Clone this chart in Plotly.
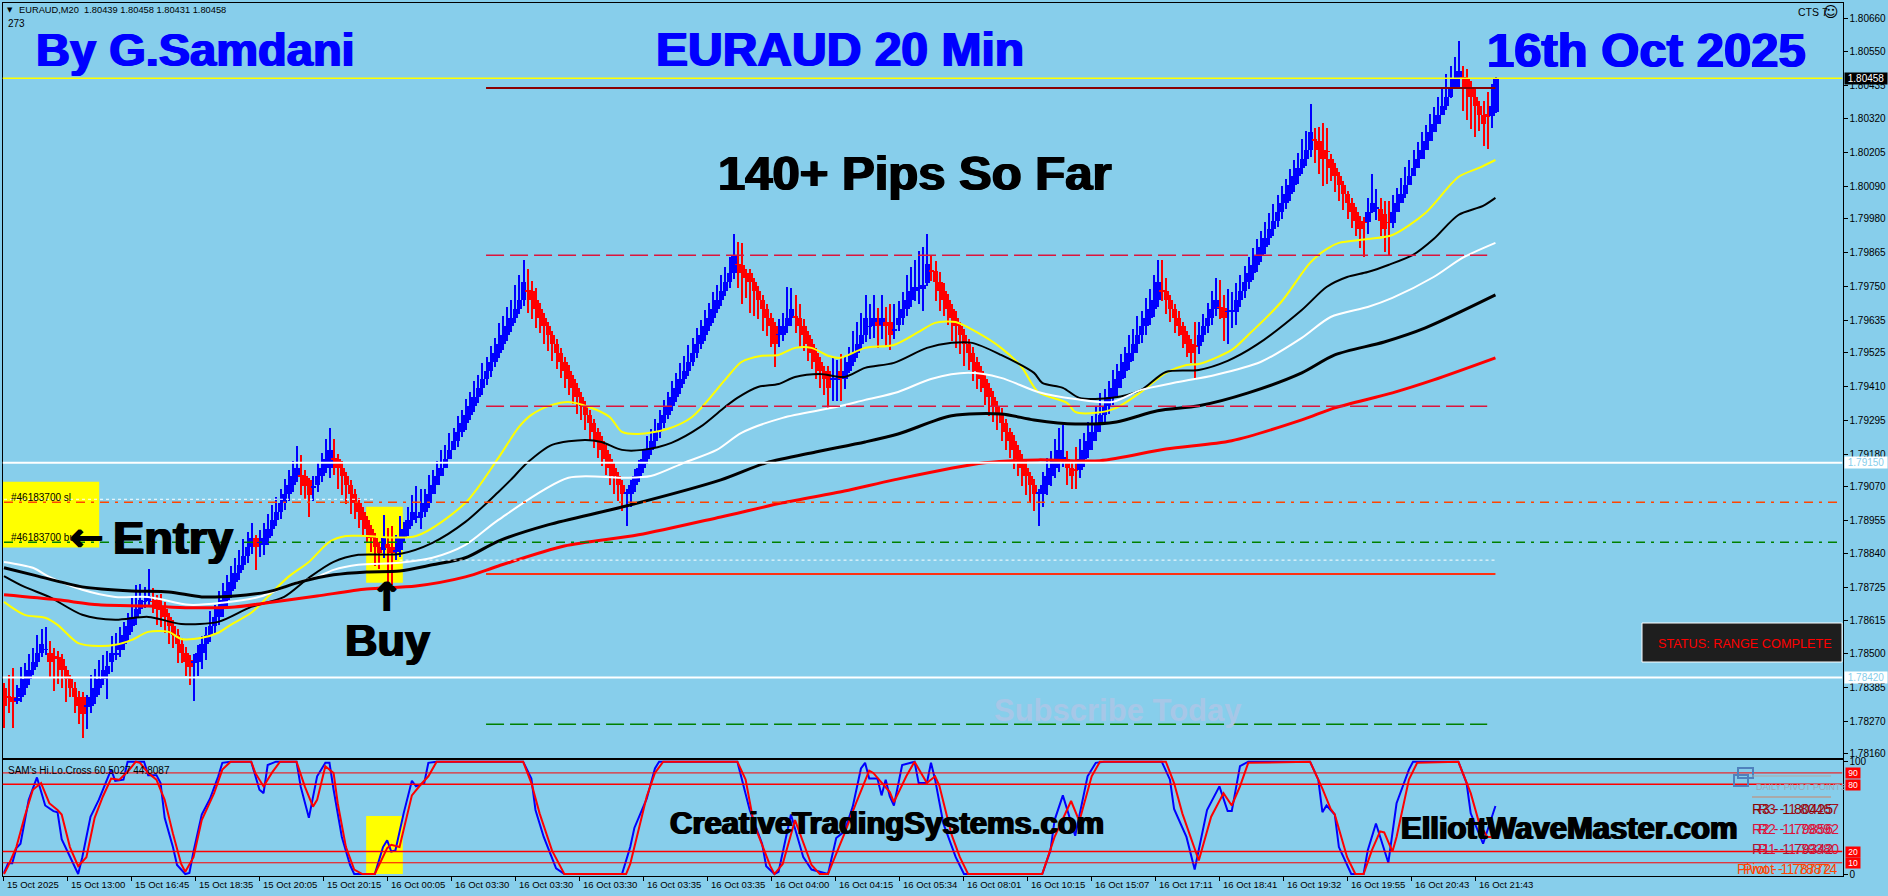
# EURAUD 20 min chart (MT4 style screenshot rebuilt with Plotly)
import numpy as np
import plotly.graph_objects as go

W, H = 1888, 896
SKY = "#87CEEB"
FONT = "Liberation Sans"
BASE_PRICE = 1.78  # bar and MA values below are points above this price

# candle data
OPEN_PTS = [
    384,354,354,340,354,384,414,444,474,504,
    514,504,490,488,484,444,414,384,354,354,
    322,324,354,384,414,432,474,498,514,534,
    564,594,624,654,678,680,680,684,664,654,
    624,594,564,534,504,480,472,474,504,534,
    564,594,624,654,684,714,744,774,804,834,
    864,894,878,870,894,924,954,984,1014,1044,
    1074,1104,1106,1104,1092,1064,1074,1104,1134,1134,
    1164,1164,1134,1104,1074,1044,1014,984,954,924,
    894,864,854,874,864,850,854,894,924,954,
    964,964,984,1014,1044,1074,1104,1134,1164,1194,
    1224,1254,1284,1314,1344,1374,1404,1434,1464,1494,
    1524,1554,1584,1614,1644,1674,1704,1736,1734,1704,
    1674,1644,1614,1584,1554,1524,1494,1464,1434,1404,
    1374,1344,1314,1284,1254,1224,1194,1164,1134,1104,
    1074,1044,1044,1074,1104,1134,1164,1194,1224,1254,
    1284,1314,1344,1374,1404,1434,1464,1494,1524,1554,
    1584,1614,1644,1674,1704,1734,1764,1794,1826,1824,
    1794,1794,1764,1734,1704,1674,1644,1614,1585,1584,
    1614,1644,1648,1644,1614,1584,1554,1524,1494,1464,
    1464,1434,1434,1464,1436,1464,1494,1524,1554,1584,
    1612,1614,1630,1618,1630,1630,1600,1618,1644,1674,
    1704,1735,1740,1740,1763,1804,1804,1764,1734,1704,
    1674,1644,1614,1584,1554,1524,1494,1464,1434,1404,
    1374,1344,1314,1284,1254,1224,1194,1164,1134,1104,
    1074,1044,1044,1074,1104,1134,1164,1166,1164,1134,
    1126,1126,1164,1194,1224,1254,1284,1314,1344,1374,
    1404,1434,1464,1494,1524,1554,1584,1614,1644,1674,
    1704,1736,1734,1704,1674,1644,1614,1584,1554,1548,
    1548,1584,1614,1644,1674,1680,1678,1664,1666,1662,1704,
    1734,1764,1794,1824,1854,1884,1914,1944,1974,2004,
    2034,2064,2094,2124,2154,2184,2214,2250,2244,2214,
    2210,2184,2154,2124,2094,2064,2034,2004,1974,
    1968,1968,2004,2016,2012,1998,1968,1966,2004,2034,
    2064,2094,2124,2154,2184,2214,2244,2274,2304,2334,
    2364,2394,2424,2454,2461,2454,2424,2394,2364,2334,
    2336,2328,2344,
]
CLOSE_PTS = [
    324,352,338,350,384,414,444,474,504,534,
    516,474,488,486,444,414,384,354,324,294,
    324,354,384,414,444,460,504,500,534,564,
    594,624,654,684,680,696,678,654,650,624,
    594,564,534,504,474,454,474,504,534,564,
    594,624,654,684,714,744,774,804,834,864,
    894,864,880,894,924,954,984,1014,1044,1074,
    1104,1134,1102,1072,1042,1072,1104,1134,1164,1194,
    1160,1134,1104,1074,1044,1014,984,954,924,894,
    864,844,894,860,844,854,894,924,954,984,
    968,984,1014,1044,1074,1104,1134,1164,1194,1224,
    1254,1284,1314,1344,1374,1404,1434,1464,1494,1524,
    1554,1584,1614,1644,1674,1704,1764,1732,1704,1674,
    1644,1614,1584,1554,1524,1494,1464,1434,1404,1374,
    1344,1314,1284,1254,1224,1194,1164,1134,1104,1074,
    1044,1048,1074,1104,1134,1164,1194,1224,1254,1284,
    1314,1344,1374,1404,1434,1464,1494,1524,1554,1584,
    1614,1644,1674,1704,1734,1764,1794,1854,1824,1794,
    1777,1764,1734,1704,1674,1644,1614,1554,1587,1614,
    1644,1674,1645,1614,1584,1554,1524,1494,1464,1434,
    1404,1436,1436,1434,1464,1494,1524,1554,1584,1644,
    1614,1644,1614,1644,1614,1584,1602,1644,1674,1704,
    1734,1747,1747,1755,1826,1802,1764,1734,1704,1674,
    1644,1614,1584,1554,1524,1494,1464,1434,1404,1374,
    1344,1314,1284,1254,1224,1194,1164,1134,1104,1074,
    1044,1048,1074,1104,1134,1164,1194,1168,1134,1104,
    1124,1164,1194,1224,1254,1284,1314,1344,1374,1404,
    1434,1464,1494,1524,1554,1584,1614,1644,1674,1704,
    1764,1734,1704,1674,1644,1614,1584,1554,1524,1546,
    1584,1614,1644,1674,1704,1678,1644,1666,1668,1704,1734,
    1764,1794,1824,1854,1884,1914,1944,1974,2004,2034,
    2064,2094,2124,2154,2184,2214,2274,2248,2214,2184,
    2208,2154,2124,2094,2064,2034,2004,1974,1944,
    1966,2004,2034,2018,1974,1944,1966,2004,2034,2064,
    2094,2124,2154,2184,2214,2244,2274,2304,2334,2364,
    2394,2424,2454,2484,2459,2424,2394,2364,2334,2304,
    2325,2364,2458,
]
HIGH_PTS = [
    400,430,452,395,455,470,500,520,565,585,
    590,545,520,510,500,460,430,405,375,370,
    360,428,450,480,495,510,560,570,590,610,
    640,690,735,738,728,790,725,700,705,675,
    640,615,585,555,525,498,500,530,560,590,
    645,665,715,740,770,800,825,855,890,915,
    945,905,920,945,975,1005,1035,1060,1095,1125,
    1155,1207,1175,1125,1100,1105,1150,1185,1230,1268,
    1230,1180,1155,1120,1090,1060,1030,1000,970,940,
    910,880,973,930,935,905,970,950,1000,1040,
    1070,1060,1060,1110,1125,1155,1195,1212,1250,1270,
    1310,1330,1368,1390,1430,1450,1490,1510,1548,1575,
    1625,1650,1680,1705,1755,1790,1840,1810,1770,1745,
    1695,1660,1630,1600,1570,1540,1510,1482,1450,1420,
    1390,1360,1330,1300,1270,1240,1210,1180,1150,1120,
    1090,1060,1090,1130,1160,1195,1240,1265,1300,1330,
    1365,1390,1430,1455,1490,1515,1550,1575,1610,1635,
    1670,1695,1730,1755,1790,1815,1850,1928,1902,1897,
    1810,1810,1780,1750,1720,1690,1660,1630,1640,1660,
    1747,1745,1720,1690,1640,1600,1570,1540,1510,1480,
    1480,1510,1500,1520,1510,1545,1600,1630,1660,1720,
    1690,1720,1675,1720,1680,1690,1690,1700,1730,1790,
    1815,1840,1870,1885,1928,1855,1835,1800,1760,1725,
    1690,1665,1630,1605,1570,1545,1510,1480,1450,1420,
    1395,1360,1335,1300,1270,1245,1210,1180,1155,1120,
    1095,1060,1120,1165,1190,1232,1267,1279,1190,1155,
    1205,1230,1250,1290,1310,1340,1386,1400,1430,1465,
    1485,1520,1545,1585,1605,1650,1665,1710,1740,1790,
    1840,1840,1778,1720,1690,1665,1630,1600,1570,1630,
    1630,1655,1695,1735,1780,1772,1720,1740,1730,1760,1790,
    1820,1850,1880,1910,1940,1970,2000,2030,2060,2090,
    2115,2150,2180,2205,2250,2280,2372,2290,2293,2305,
    2290,2200,2170,2140,2110,2075,2050,2020,1990,
    1985,2050,2132,2080,2050,2040,2040,2060,2085,2120,
    2155,2180,2215,2240,2275,2300,2335,2360,2395,2420,
    2472,2500,2531,2585,2500,2490,2450,2425,2380,2380,
    2412,2440,2462,
]
LOW_PTS = [
    247,300,247,330,336,360,395,430,455,490,
    495,420,375,398,385,335,355,300,262,214,
    245,300,330,360,395,345,440,480,490,515,
    545,575,600,635,655,660,640,600,590,570,
    535,520,470,470,425,395,340,425,450,480,
    540,570,600,625,660,690,720,750,785,810,
    840,786,830,835,870,900,935,960,990,1020,
    1050,1085,1040,1025,967,1020,1050,1085,1115,1100,
    1110,1060,1040,1010,975,960,930,905,880,845,
    800,790,825,745,735,820,830,880,900,935,
    945,925,965,995,1055,1085,1112,1148,1170,1205,
    1205,1238,1262,1295,1322,1355,1382,1415,1442,1475,
    1505,1535,1565,1595,1625,1655,1685,1660,1640,1610,
    1590,1555,1530,1495,1470,1440,1405,1380,1350,1315,
    1295,1260,1225,1200,1165,1140,1110,1075,1045,1020,
    985,935,1000,1050,1085,1115,1145,1175,1205,1235,
    1268,1298,1325,1358,1385,1418,1445,1478,1505,1538,
    1565,1598,1625,1658,1685,1718,1745,1775,1745,1690,
    1710,1660,1650,1640,1600,1580,1545,1477,1545,1565,
    1590,1615,1590,1540,1530,1495,1470,1435,1405,1380,
    1335,1360,1360,1360,1400,1455,1480,1505,1535,1560,
    1570,1575,1540,1570,1545,1535,1570,1600,1620,1650,
    1680,1700,1690,1665,1750,1770,1700,1665,1650,1620,
    1565,1540,1520,1480,1465,1430,1400,1390,1345,1310,
    1290,1260,1225,1195,1165,1130,1105,1070,1040,1015,
    985,935,1000,1040,1070,1100,1120,1135,1075,1060,
    1060,1100,1135,1165,1195,1225,1255,1290,1315,1345,
    1378,1405,1438,1465,1498,1525,1558,1585,1618,1645,
    1680,1700,1655,1630,1590,1580,1540,1510,1490,1432,
    1520,1560,1590,1620,1650,1640,1565,1555,1610,1620,1680,
    1710,1740,1772,1800,1832,1860,1892,1920,1952,1980,
    2012,2040,2072,2100,2132,2160,2190,2170,2134,2092,
    2100,2110,2070,2040,2010,1980,1950,1920,1880,
    1851,1930,2000,1975,1920,1868,1857,1950,2010,2040,
    2050,2100,2130,2160,2190,2220,2250,2280,2310,2340,
    2350,2390,2420,2430,2348,2316,2287,2259,2278,2227,
    2219,2290,2340,
]

# moving averages, (bar number, points above base)
YELLOW_BAR = [0,5,10,13,18,23,27,31,35,40,43,48,52,55,60,64,69,74,79,83,88,100,112,120,125,128,133,137,142,147,150,154,161,167,175,179,184,188,192,196,200,203,209,216,222,226,231,236,242,247,251,258,260,265,270,276,282,287,290,298,302,310,317,321,324,331,337,345,353,358,362]
YELLOW_PTS = [677,633,623,599,537,527,531,548,575,575,551,555,572,599,640,694,762,813,881,901,901,901,1014,1167,1272,1313,1347,1357,1340,1306,1255,1248,1265,1306,1432,1493,1514,1517,1541,1541,1514,1507,1541,1551,1595,1626,1629,1595,1541,1476,1391,1354,1323,1320,1337,1391,1456,1483,1486,1534,1585,1697,1830,1877,1898,1911,1925,2000,2122,2153,2180]
BLACK_THIN_BAR = [0,5,11,19,27,35,43,52,60,68,74,80,86,96,104,112,120,123,127,133,141,145,150,155,162,169,175,178,183,188,192,198,204,209,216,224,230,235,242,250,252,257,261,269,276,282,290,297,304,315,321,326,331,336,342,347,353,359,362]
BLACK_THIN_PTS = [765,728,694,633,616,626,602,609,660,694,759,813,837,840,878,949,1051,1092,1150,1211,1228,1221,1194,1194,1218,1272,1340,1371,1408,1418,1442,1452,1442,1473,1490,1541,1558,1558,1517,1456,1422,1405,1371,1371,1398,1459,1466,1497,1551,1670,1748,1782,1799,1823,1857,1911,1993,2024,2051]
WHITE_BAR = [0,7,11,19,27,35,45,53,62,70,76,80,86,96,104,112,120,137,150,157,165,173,179,189,201,209,217,225,234,242,251,260,269,276,284,294,305,315,322,331,337,347,354,362]
WHITE_PTS = [813,793,762,718,694,694,667,674,694,738,762,786,803,810,827,871,956,1099,1099,1105,1150,1194,1252,1303,1337,1364,1391,1435,1456,1439,1391,1367,1357,1398,1422,1449,1493,1575,1646,1680,1711,1782,1847,1898]
BLACK_THICK_BAR = [0,7,19,31,40,48,56,64,72,80,88,96,104,112,120,132,151,174,185,197,209,217,230,242,250,260,270,280,290,302,315,323,335,345,362]
BLACK_THICK_PTS = [793,769,728,714,711,694,697,711,745,769,779,782,803,827,884,939,1003,1092,1150,1187,1221,1248,1310,1316,1296,1282,1289,1327,1344,1388,1456,1517,1561,1609,1721]
RED_MA_BAR = [0,13,23,35,45,56,64,76,88,100,112,120,136,154,174,189,204,216,238,251,266,282,298,315,323,337,347,362]
RED_MA_PTS = [701,684,667,663,657,660,674,697,721,731,762,799,867,905,966,1014,1054,1092,1150,1160,1157,1197,1225,1296,1337,1388,1432,1507]

# SAM's Hi.Lo.Cross oscillator
OSC_BLUE_BAR = [
    0,1,2,3,4,5,6,8,10,12, 13,14,15,17,18,19,21,23,25,26,
    27,29,30,34,35,37,38,39,41,42, 44,45,46,48,50,52,53,55,60,62,
    63,64,66,71,72,74,76,78,79,80, 82,84,85,90,92,93,94,95,97,99,
    100,102,103,105,126,128,129,131,134,136, 150,152,153,154,156,158,159,178,179,181,
    184,185,187,188,191,194,196,200,202,204, 206,208,209,210,212,213,214,215,216,218,
    221,222,224,225,226,228,231,233,252,254, 255,257,260,263,265,267,281,283,284,287,
    289,292,295,297,298,300,302,317,319,320, 321,323,324,326,327,330,331,333,336,338,
    341,342,353,355,356,359,362,
]
OSC_BLUE = [
    1,9.5,9.5,23,27,46,66,86,61,56, 55,31,23,8,0,15,51,66,85,93,
    83,84,100,100,88,88,81,50,24,8, 0,1,20,53,67,87,99,100,100,75,
    72,97,100,100,78,50,87,99,99,75, 33,8,0,0,24,30,20,21,54,83,
    78,81,99,100,100,85,57,33,5,0, 0,24,41,50,67,94,100,100,85,57,
    27,7,0,2,53,15,4,0,32,38, 60,94,99,85,85,70,84,69,61,97,
    100,81,81,99,84,45,15,0,0,21, 48,70,34,87,99,100,100,84,58,33,
    4,57,78,56,56,96,100,100,84,55, 61,53,24,7,0,0,21,45,10,63,
    93,100,100,81,54,27,60.5,
]
OSC_RED_BAR = [
    0,1,3,5,7,9,11,13,14,16, 18,20,22,24,26,28,30,32,33,35,
    37,39,41,43,44,46,48,51,53,55, 60,61,63,65,67,71,73,75,76,78,
    80,81,83,85,87,90,93,94,96,99, 101,103,105,126,128,130,133,136,151,152,
    154,156,158,160,178,180,182,186,187,189, 192,194,196,198,200,203,204,207,210,211,
    213,215,216,219,221,224,226,227,230,232, 234,252,255,259,261,264,266,282,284,286,
    290,293,296,298,300,302,317,320,322,323, 326,328,330,332,334,335,337,338,341,343,
    353,356,358,360,361,
]
OSC_RED = [
    0,7,24,51,75,81,63,57,53,24, 7,15,50,69,85,84,91,100,99,90,
    84,66,36,9,2,15,48,72,93,100, 100,90,78,90,100,100,78,60,66,96,
    90,63,24,4,0,0,23,26,24,70, 79,87,100,100,81,54,21,0,0,9,
    39,69,90,100,100,84,45,7,0,9, 48,27,8,0,0,27,36,65,92,90,
    81,73,64,87,100,81,87,79,35,15, 0,0,33,65,47,87,100,100,81,54,
    12,51,72,61,78,99,100,76,58,53, 15,0,0,21,38,37,20,33,84,99,
    100,72,46,33,33,
]
OSC_LEVELS = [90, 80, 20, 10]

PRICE_TICKS = [1.80660,1.80550,1.80435,1.80320,1.80205,1.80090,1.79980,1.79865,1.79750,1.79635,1.79525,
               1.79410,1.79295,1.79180,1.79070,1.78955,1.78840,1.78725,1.78615,1.78500,1.78385,1.78270,1.78160]
TIME_LABELS = ["15 Oct 2025","15 Oct 13:00","15 Oct 16:45","15 Oct 18:35","15 Oct 20:05","15 Oct 20:15",
               "16 Oct 00:05","16 Oct 03:30","16 Oct 03:30","16 Oct 03:30","16 Oct 03:35","16 Oct 03:35",
               "16 Oct 04:00","16 Oct 04:15","16 Oct 05:34","16 Oct 08:01","16 Oct 10:15","16 Oct 15:07",
               "16 Oct 17:11","16 Oct 18:41","16 Oct 19:32","16 Oct 19:55","16 Oct 20:43","16 Oct 21:43"]

CURRENT_PRICE = 1.80458
R3_PRICE = 1.80425
R2_PRICE = 1.79856
R1_PRICE = 1.79342
UPPER_WHITE = 1.79150
SL_PRICE = 1.79016
ENTRY_PRICE = 1.78880
WHITE_DOT_1 = 1.79026
WHITE_DOT_2 = 1.78819
PIVOT_PRICE = 1.78772
LOWER_WHITE = 1.78420
S1_PRICE = 1.78261

# chart frame in screen pixels
PLOT_LEFT, PLOT_RIGHT = 2.5, 1842.5
MAIN_TOP, MAIN_BOTTOM = 3, 758
OSC_TOP, OSC_BOTTOM = 760, 875.7
BAR_PX = 4.12
BAR0_PX = 4.0
X_RANGE = [(PLOT_LEFT - BAR0_PX) / BAR_PX, (PLOT_RIGHT - BAR0_PX) / BAR_PX]


def to_price(pts):
    return BASE_PRICE + np.array(pts) / 1e5


o, c, hi, lo = map(to_price, (OPEN_PTS, CLOSE_PTS, HIGH_PTS, LOW_PTS))
bars = np.arange(len(o))
bar_color = ["#0000FF" if c1 >= o1 else "#FF0000" for o1, c1 in zip(o, c)]

fig = go.Figure()

# wicks then bodies
fig.add_trace(go.Bar(x=bars, y=hi - lo, base=lo, width=0.26, marker=dict(color=bar_color, line_width=0)))
fig.add_trace(go.Bar(x=bars, y=np.abs(c - o), base=np.minimum(o, c), width=1.35,
                     marker=dict(color=bar_color, line_width=0)))

for xs, ys, color, width in [
    (YELLOW_BAR, YELLOW_PTS, "#FFFF00", 2),
    (BLACK_THIN_BAR, BLACK_THIN_PTS, "#000000", 2),
    (WHITE_BAR, WHITE_PTS, "#FFFFFF", 2),
    (BLACK_THICK_BAR, BLACK_THICK_PTS, "#000000", 3),
    (RED_MA_BAR, RED_MA_PTS, "#FF0000", 3),
]:
    fig.add_trace(go.Scatter(x=xs, y=to_price(ys), mode="lines",
                             line=dict(color=color, width=width, shape="spline", smoothing=0.8)))

fig.add_trace(go.Scatter(x=OSC_BLUE_BAR, y=OSC_BLUE, mode="lines", xaxis="x2", yaxis="y2",
                         line=dict(color="#0000FF", width=2)))
fig.add_trace(go.Scatter(x=OSC_RED_BAR, y=OSC_RED, mode="lines", xaxis="x2", yaxis="y2",
                         line=dict(color="#FF0000", width=2)))


def hline(price, x0, x1, color, width, dash="solid"):
    fig.add_shape(type="line", xref="x", yref="y", x0=x0, x1=x1, y0=price, y1=price,
                  line=dict(color=color, width=width, dash=dash), layer="above")


DASH = "18px,6px"
DASHDOT = "9px,6px,3px,6px"
hline(CURRENT_PRICE, X_RANGE[0], X_RANGE[1], "#FFFF00", 1.5)
hline(R3_PRICE, 117, 362, "#8B0000", 2)
hline(R2_PRICE, 117, 360, "#DC143C", 1.5, DASH)
hline(R1_PRICE, 117, 360, "#DC143C", 1.5, DASH)
hline(UPPER_WHITE, X_RANGE[0], X_RANGE[1], "#FFFFFF", 2)
hline(WHITE_DOT_1, 0, 90, "#FFFFFF", 1, "3px,3px")
hline(SL_PRICE, 0, 445, "#FF4500", 1.5, DASHDOT)
hline(ENTRY_PRICE, 0, 445, "#008000", 1.5, DASHDOT)
hline(WHITE_DOT_2, 96, 362, "#FFFFFF", 1, "3px,3px")
hline(PIVOT_PRICE, 117, 362, "#FF3010", 2)
hline(LOWER_WHITE, X_RANGE[0], X_RANGE[1], "#FFFFFF", 2)
hline(S1_PRICE, 117, 360, "#008000", 1.5, DASH)

# yellow highlight boxes
fig.add_shape(type="rect", xref="x", yref="y", x0=X_RANGE[0], x1=23.1, y0=1.78862, y1=1.79086,
              fillcolor="#FFFF00", line_width=0, layer="below")
fig.add_shape(type="rect", xref="x", yref="y", x0=87.9, x1=96.8, y0=1.78742, y1=1.79001,
              fillcolor="#FFFF00", line_width=0, layer="below")
fig.add_shape(type="rect", xref="x2", yref="y2", x0=87.9, x1=96.8, y0=0, y1=51.6,
              fillcolor="#FFFF00", line_width=0, layer="below")

for level, width in zip(OSC_LEVELS, [1, 1.5, 1.5, 1]):
    fig.add_shape(type="line", xref="x2", yref="y2", x0=X_RANGE[0], x1=X_RANGE[1], y0=level, y1=level,
                  line=dict(color="#FF0000", width=width), layer="above")


def px_rect(x0, x1, y0, y1, fill=None, line_color=None, line_width=1):
    fig.add_shape(type="rect", xref="paper", yref="paper", x0=x0 / W, x1=x1 / W, y0=1 - y0 / H, y1=1 - y1 / H,
                  fillcolor=fill, line=dict(color=line_color, width=line_width if line_color else 0), layer="above")


def px_line(x0, x1, y, color, width):
    fig.add_shape(type="line", xref="paper", yref="paper", x0=x0 / W, x1=x1 / W, y0=1 - y / H, y1=1 - y / H,
                  line=dict(color=color, width=width), layer="above")


def label(x, y, text, size, color="#000000", bold=False, anchor="left", family=FONT, bg=None):
    font = dict(family=family, size=size, color=color)
    if bold:
        # MT4 headline font is heavier than plain bold
        text = "<b>" + text + "</b>"
        font["shadow"] = "1px 0 0 %s, -1px 0 0 %s" % (color, color)
    fig.add_annotation(xref="paper", yref="paper", x=x / W, y=1 - y / H, text=text, showarrow=False,
                       xanchor=anchor, yanchor="middle", bgcolor=bg, borderpad=0, font=font)


# big headlines
label(35, 50, "By G.Samdani", 47, "#0000FF", True)
label(840, 50, "EURAUD 20 Min", 48, "#0000FF", True, "center")
label(1646, 50, "16th Oct 2025", 49, "#0000FF", True, "center")
label(915, 173, "140+ Pips So Far", 49, "#000000", True, "center")
label(112, 537, "Entry", 47, "#000000", True)
label(87, 537, "←", 40, "#000000", True, "center", "DejaVu Sans")
label(387, 597, "↑", 40, "#000000", True, "center", "DejaVu Sans")
label(387, 640, "Buy", 45, "#000000", True, "center")
label(1118, 710, "<b>Subscribe Today</b>", 31, "#A7C7E7", False, "center")
label(669, 823, "CreativeTradingSystems.com", 31, "#000000", True)
label(1400, 828, "ElliottWaveMaster.com", 31, "#000000", True)

# small chart texts
label(6, 10, "▼", 7, family="DejaVu Sans")
label(18, 10, "EURAUD,M20  1.80439 1.80458 1.80431 1.80458", 9.3)
label(7, 23, "273", 10)
label(1797, 12, "CTS 7", 10.5)
label(1831, 12, "☺", 15, family="DejaVu Sans", anchor="center")
label(10, 497, "#46183700 sl", 10)
label(10, 537, "#46183700 buy", 10)
label(7, 770, "SAM's Hi.Lo.Cross 60.5027 44.8087", 10)

# status box
px_rect(1642, 1842, 623, 662, "#1E1E1E", "#FFFFFF", 1)
label(1657, 644, "STATUS: RANGE COMPLETE", 12.7, "#FF0000")

# pivot panel, two sets of labels drawn on top of each other
px_rect(1738, 1753, 768, 778, None, "#4F81BD", 2)
px_rect(1734, 1748, 775, 786, None, "#4F81BD", 2)
px_line(1752, 1831, 776, "#A9A9A9", 1)
px_line(1752, 1831, 797, "#A9A9A9", 2)
label(1755, 787, "DAILY PIVOT POINTS", 9, "#9AA8B8")
label(1751, 809, "R3 - 1.80425", 14, "#8B0000")
label(1757, 809, "R3 - 1.80467", 14, "#A01020")
label(1751, 829, "R2 - 1.79856", 14, "#DC143C")
label(1757, 829, "R2 - 1.79892", 14, "#DC143C")
label(1751, 849, "R1 - 1.79342", 14, "#B01030")
label(1757, 849, "R1 - 1.79380", 14, "#DC143C")
label(1736, 869, "Pivot - 1.78772", 14, "#FF4500")
label(1742, 869, "Pivot - 1.78874", 14, "#FF4500")

# price tags on the axis
label(1844, 78.3, " 1.80458 ", 10, "#FFFFFF", bg="#000000")
label(1844, 462.5, " 1.79150 ", 10, "#87CEEB", bg="#FFFFFF")
label(1844, 677.5, " 1.78420 ", 10, "#87CEEB", bg="#FFFFFF")

# oscillator level tags
for text, y_px in zip(OSC_LEVELS, [773, 784.5, 852, 863]):
    label(1845, y_px, " " + str(text) + " ", 8.5, "#FFFFFF", bg="#FF0000")

# time labels sit to the right of their tick, every 64 px
tick_bars = [(3 + 64 * k - BAR0_PX) / BAR_PX for k in range(len(TIME_LABELS))]
for tb, text in zip(tick_bars, TIME_LABELS):
    label(BAR0_PX + tb * BAR_PX + 3, 884, text, 9.5)

axis_common = dict(showgrid=False, zeroline=False, showline=True, linecolor="#000000", linewidth=1, mirror=True)
tick_font = dict(family=FONT, size=10, color="#000000")
fig.update_layout(
    width=W, height=H, autosize=False,
    margin=dict(l=0, r=0, t=0, b=0, autoexpand=False),
    paper_bgcolor=SKY, plot_bgcolor=SKY,
    showlegend=False, barmode="overlay", bargap=0, hovermode=False,
    xaxis=dict(domain=[PLOT_LEFT / W, PLOT_RIGHT / W], range=X_RANGE, anchor="y", showticklabels=False,
               ticks="", **axis_common),
    xaxis2=dict(domain=[PLOT_LEFT / W, PLOT_RIGHT / W], range=X_RANGE, anchor="y2", showticklabels=False,
                ticks="outside", ticklen=4, tickcolor="#000000", tickmode="array", tickvals=tick_bars,
                **axis_common),
    yaxis=dict(domain=[1 - MAIN_BOTTOM / H, 1 - MAIN_TOP / H], range=[1.78146, 1.80714], anchor="x", side="right",
               tickmode="array", tickvals=PRICE_TICKS, ticktext=["%.5f" % t for t in PRICE_TICKS],
               ticks="outside", ticklen=4, tickcolor="#000000", tickfont=tick_font, **axis_common),
    yaxis2=dict(domain=[1 - OSC_BOTTOM / H, 1 - OSC_TOP / H], range=[-1.5, 101.5], anchor="x2", side="right",
                tickmode="array", tickvals=[100, 0], ticktext=["100", "0"],
                ticks="outside", ticklen=4, tickcolor="#000000", tickfont=tick_font, **axis_common),
)

fig.write_html("out.html", config=dict(displayModeBar=False),
               post_script="document.body.style.margin='0';document.body.style.overflow='hidden';"
                           "var g=document.querySelector('.plotly-graph-div');"
                           "g.style.position='absolute';g.style.top='0';g.style.left='0';")
